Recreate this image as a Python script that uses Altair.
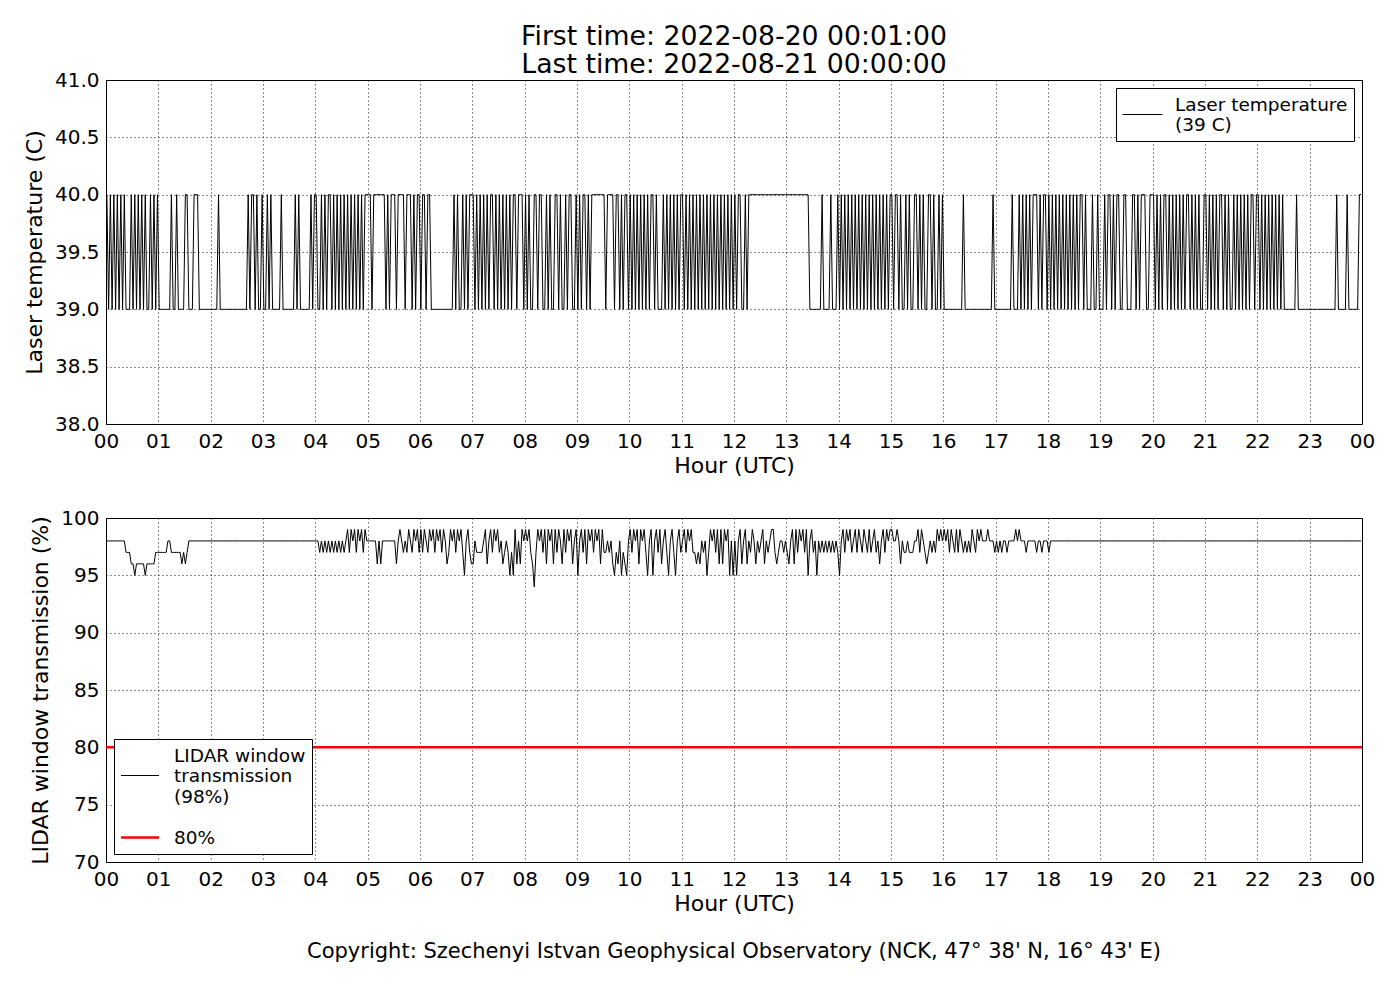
import altair as alt
import pandas as pd

# ---------------- data ----------------
HOUR_TICKS = [0, 1, 2, 3, 4, 5, 6, 7, 8, 9, 10, 11, 12, 13, 14, 15, 16, 17, 18, 19, 20, 21, 22, 23, 24]
TEMP_TICKS = [38.0, 38.5, 39.0, 39.5, 40.0, 40.5, 41.0]
TRANS_TICKS = [70, 75, 80, 85, 90, 95, 100]

TITLE_LINES = ["First time: 2022-08-20 00:01:00", "Last time: 2022-08-21 00:00:00"]
COPYRIGHT = "Copyright: Szechenyi Istvan Geophysical Observatory (NCK, 47° 38' N, 16° 43' E)"
TEMP_LABEL = "Laser temperature|(39 C)"
TRANS_LABEL = "LIDAR window|transmission|(98%)"
LIMIT_LABEL = "80%"
LIMIT_VALUE = [80, 80]
LIMIT_HOURS = [0, 24]

# laser temperature, one string per hour, one character per 2-minute sample
# '0' = 39 C, '1' = 40 C
LASER_TEMP = [
    "101010101010001010101010010101",  # 00
    "000000010010000110001110000000",  # 01
    "000010000000000000000101101001",  # 02
    "001010000010000000101000000101",  # 03
    "100101011010101010101010101011",  # 04
    "110111111101011101111011101011",  # 05
    "011011000000000000010100101011",  # 06
    "101010101011010101010101101110",  # 07
    "101001101100101001101001011001",  # 08
    "010110101111111101111011010110",  # 09
    "101010101010110100010101010101",  # 10
    "101010101010101010101010101010",  # 11
    "101100101111111111111111111111",  # 12
    "111111111111100000001000010001",  # 13
    "010101010101010101010101010101",  # 14
    "101101001010011010100110100101",  # 15
    "000000000001000000000000000010",  # 16
    "000000000100010101010111010110",  # 17
    "101010101010101010110100010010",  # 18
    "001011010110011000110101110011",  # 19
    "101010110101010101011010101001",  # 20
    "101010101101010010101010101101",  # 21
    "101010101010101000000010000000",  # 22
    "000000000000000100000100000011",  # 23
]

# LIDAR window transmission, one string per hour, one character per 2-minute sample
# digit d = (90 + d) %
LIDAR_TRANS = [
    "888888888887776656666656666677",  # 00
    "777778877777767678888888888888",  # 01
    "888888888888888888888888888888",  # 02
    "888888888888888888888888888888",  # 03
    "887878787878787878979897989798",  # 04
    "888886868888888868987879879897",  # 05
    "979879897989798679897989758976",  # 06
    "687777896897989786787575968698",  # 07
    "989764798979698969798697989689",  # 08
    "589796989798969778786576857658",  # 09
    "979896989758958979689758975897",  # 10
    "897989776768785798979696989585",  # 11
    "858968968798687896878997678878",  # 12
    "768969798979589785878787878787",  # 13
    "589798978979879879789786897989",  # 14
    "988986877877788979876787879898",  # 15
    "989798797987878798798988898887",  # 16
    "878788788889898887888887887888",  # 17
    "788888888888888888888888888888",  # 18
    "888888888888888888888888888888",  # 19
    "888888888888888888888888888888",  # 20
    "888888888888888888888888888888",  # 21
    "888888888888888888888888888888",  # 22
    "888888888888888888888888888888",  # 23
]

# ---------------- tables ----------------
temp_rows = []
for h, s in enumerate(LASER_TEMP):
    for j, c in enumerate(s):
        temp_rows.append({"hour": (h * 60 + 2 * j + 1) / 60.0, "value": 39 + int(c), "series": TEMP_LABEL})
temp_df = pd.DataFrame(temp_rows)

trans_rows = []
for h, s in enumerate(LIDAR_TRANS):
    for j, c in enumerate(s):
        trans_rows.append({"hour": (h * 60 + 2 * j + 1) / 60.0, "value": 90 + int(c), "series": TRANS_LABEL})
for hr, v in zip(LIMIT_HOURS, LIMIT_VALUE):
    trans_rows.append({"hour": hr, "value": v, "series": LIMIT_LABEL})
trans_df = pd.DataFrame(trans_rows)

FONT = "DejaVu Sans"
W, H = 1256, 344
HOUR_EXPR = "(datum.value % 24 < 10 ? '0' : '') + (datum.value % 24)"
# multi-line legend labels; single-line labels get an empty first line so that
# every legend line sample sits beside the second text line
BOTTOM_LABEL_EXPR = ("length(split(datum.label, '|')) > 1 ? split(datum.label, '|') "
                     ": ['', datum.label]")

x_enc = alt.X(
    "hour:Q",
    scale=alt.Scale(domain=[0, 24], nice=False, zero=False),
    axis=alt.Axis(values=HOUR_TICKS, labelExpr=HOUR_EXPR, title="Hour (UTC)",
                  labelFlush=False, labelOverlap=False, labelBound=False, titlePadding=4),
)

top = alt.Chart(temp_df).mark_line(strokeWidth=1, clip=True).encode(
    x=x_enc,
    y=alt.Y("value:Q",
            scale=alt.Scale(domain=[38, 41], nice=False, zero=False),
            axis=alt.Axis(values=TEMP_TICKS, format=".1f", title="Laser temperature (C)")),
    color=alt.Color("series:N", title=None,
                    scale=alt.Scale(domain=[TEMP_LABEL], range=["black"]),
                    legend=alt.Legend(orient="top-right", offset=8, labelExpr="split(datum.label, '|')",
                                      strokeColor="black", fillColor="white", padding=6,
                                      labelFontSize=18.5, labelLimit=500, labelBaseline="bottom",
                                      symbolType="stroke", symbolSize=1600, symbolStrokeWidth=1,
                                      labelOffset=12)),
).properties(
    width=W, height=H,
    title=alt.Title(TITLE_LINES, fontSize=26.7, fontWeight="normal", font=FONT, frame="group",
                    anchor="middle", offset=-9, lineHeight=28, color="black"),
)

bottom = alt.Chart(trans_df).mark_line(clip=True).encode(
    x=x_enc,
    y=alt.Y("value:Q",
            scale=alt.Scale(domain=[70, 100], nice=False, zero=False),
            axis=alt.Axis(values=TRANS_TICKS, format="d", title="LIDAR window transmission (%)")),
    color=alt.Color("series:N", title=None,
                    scale=alt.Scale(domain=[TRANS_LABEL, LIMIT_LABEL], range=["black", "red"]),
                    legend=alt.Legend(orient="bottom-left", offset=8, labelExpr=BOTTOM_LABEL_EXPR,
                                      strokeColor="black", fillColor="white", padding=6,
                                      labelFontSize=18.5, labelLimit=500, labelBaseline="middle",
                                      symbolType="M-1.05,2.0L2.75,2.0", symbolSize=400,
                                      labelOffset=31, rowPadding=-27)),
    strokeWidth=alt.StrokeWidth("series:N", title=None,
                                scale=alt.Scale(domain=[TRANS_LABEL, LIMIT_LABEL], range=[1, 2.5])),
).properties(
    width=W, height=H,
    title=alt.Title(COPYRIGHT, orient="bottom", fontSize=21, fontWeight="normal", font=FONT,
                    frame="group", anchor="middle", offset=27, color="black"),
)

chart = alt.vconcat(top, bottom, spacing=30).resolve_scale(
    color="independent", strokeWidth="independent"
).resolve_legend(
    color="independent", strokeWidth="independent"
).properties(
    padding={"left": 14, "top": 15, "right": 4, "bottom": 10},
    background="white",
).configure(
    font=FONT,
).configure_view(
    stroke="black", strokeWidth=1,
).configure_axis(
    grid=True, gridColor="black", gridDash=[1, 3], gridOpacity=0.9, gridWidth=1,
    ticks=False, domain=False,
    labelFontSize=20, titleFontSize=22, labelFont=FONT, titleFont=FONT,
    labelColor="black", titleColor="black", titleFontWeight="normal",
    labelPadding=7, titlePadding=8,
)

chart.save("out.html", embed_options={"renderer": "svg", "actions": False})
